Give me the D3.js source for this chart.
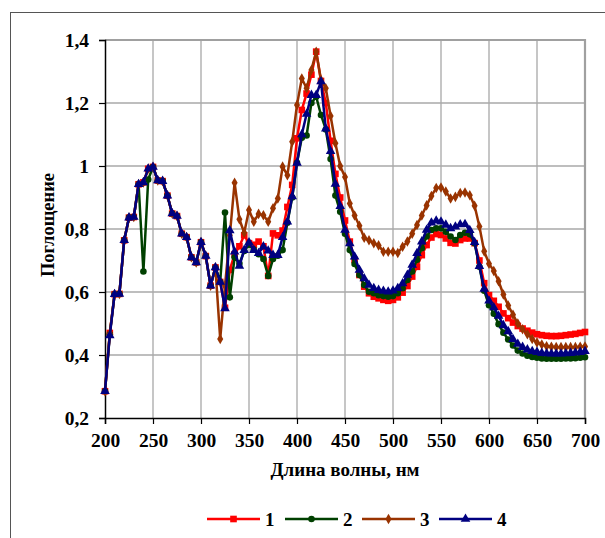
<!DOCTYPE html>
<html>
<head>
<meta charset="utf-8">
<script src="https://cdn.jsdelivr.net/npm/d3@7"></script>
<style>
  body { margin: 0; background: #fff; }
  svg { display: block; font-family: "Liberation Serif", "Times New Roman", serif; font-weight: bold; }
</style>
</head>
<body>
<script>
const width = 605;
const height = 538;

// wavelengths, nm (every 5 nm)
const wavelengths = d3.range(200, 701, 5);

const series1 = [
  0.285, 0.470, 0.593, 0.594, 0.764, 0.836, 0.838, 0.942, 0.948, 0.991,
  0.997, 0.954, 0.952, 0.906, 0.849, 0.841, 0.785, 0.774, 0.710, 0.694,
  0.758, 0.714, 0.620, 0.678, 0.632, 0.550, 0.670, 0.720, 0.745, 0.780,
  0.755, 0.750, 0.760, 0.745, 0.651, 0.786, 0.780, 0.795, 0.870, 0.940,
  1.088, 1.178, 1.230, 1.290, 1.363, 1.270, 1.200, 1.080, 0.975, 0.900,
  0.827, 0.760, 0.702, 0.654, 0.617, 0.596, 0.585, 0.580, 0.575, 0.572,
  0.575, 0.583, 0.598, 0.619, 0.649, 0.680, 0.717, 0.749, 0.773, 0.784,
  0.781, 0.770, 0.756, 0.754, 0.765, 0.770, 0.770, 0.755, 0.700, 0.628,
  0.590, 0.572, 0.553, 0.532, 0.517, 0.503, 0.492, 0.484, 0.477, 0.471,
  0.466, 0.463, 0.461, 0.460, 0.460, 0.461, 0.463, 0.465, 0.467, 0.470,
  0.473
];

const series2 = [
  0.285, 0.466, 0.593, 0.594, 0.764, 0.836, 0.838, 0.942, 0.665, 0.957,
  0.997, 0.954, 0.952, 0.906, 0.849, 0.841, 0.785, 0.774, 0.710, 0.694,
  0.758, 0.714, 0.620, 0.678, 0.632, 0.852, 0.583, 0.710, 0.690, 0.730,
  0.750, 0.735, 0.720, 0.705, 0.651, 0.705, 0.715, 0.733, 0.820, 0.900,
  1.010, 1.090, 1.097, 1.200, 1.220, 1.162, 1.116, 1.022, 0.906, 0.855,
  0.785, 0.733, 0.689, 0.654, 0.622, 0.601, 0.596, 0.590, 0.587, 0.585,
  0.587, 0.596, 0.612, 0.638, 0.665, 0.702, 0.739, 0.776, 0.797, 0.802,
  0.802, 0.791, 0.776, 0.765, 0.781, 0.788, 0.783, 0.755, 0.680, 0.604,
  0.558, 0.531, 0.498, 0.471, 0.449, 0.430, 0.414, 0.405, 0.398, 0.394,
  0.391, 0.389, 0.388, 0.388, 0.388, 0.388, 0.389, 0.389, 0.390, 0.391,
  0.393
];

const series3 = [
  0.285, 0.468, 0.593, 0.594, 0.764, 0.836, 0.838, 0.942, 0.948, 0.991,
  0.997, 0.954, 0.952, 0.906, 0.849, 0.841, 0.785, 0.774, 0.710, 0.694,
  0.758, 0.714, 0.620, 0.678, 0.451, 0.620, 0.780, 0.947, 0.831, 0.788,
  0.860, 0.823, 0.848, 0.844, 0.823, 0.866, 0.897, 0.998, 0.971, 1.077,
  1.194, 1.278, 1.247, 1.305, 1.363, 1.273, 1.247, 1.159, 1.072, 1.000,
  0.965, 0.881, 0.843, 0.810, 0.772, 0.764, 0.755, 0.748, 0.728, 0.728,
  0.728, 0.724, 0.744, 0.760, 0.785, 0.813, 0.843, 0.875, 0.905, 0.930,
  0.932, 0.919, 0.897, 0.902, 0.914, 0.916, 0.907, 0.874, 0.808, 0.729,
  0.690, 0.667, 0.634, 0.592, 0.557, 0.528, 0.500, 0.482, 0.466, 0.451,
  0.440, 0.433, 0.428, 0.426, 0.425, 0.425, 0.425, 0.425, 0.425, 0.426,
  0.427
];

const series4 = [
  0.285, 0.462, 0.593, 0.594, 0.764, 0.836, 0.838, 0.942, 0.948, 0.991,
  0.997, 0.954, 0.952, 0.906, 0.849, 0.841, 0.785, 0.774, 0.710, 0.694,
  0.758, 0.714, 0.620, 0.678, 0.632, 0.548, 0.795, 0.728, 0.683, 0.733,
  0.757, 0.733, 0.723, 0.744, 0.731, 0.717, 0.717, 0.774, 0.823, 0.903,
  1.010, 1.100, 1.165, 1.225, 1.225, 1.268, 1.118, 1.047, 0.943, 0.872,
  0.797, 0.754, 0.712, 0.670, 0.643, 0.622, 0.612, 0.606, 0.603, 0.601,
  0.604, 0.612, 0.627, 0.654, 0.686, 0.723, 0.760, 0.797, 0.820, 0.826,
  0.823, 0.813, 0.802, 0.807, 0.814, 0.815, 0.796, 0.758, 0.682, 0.610,
  0.572, 0.551, 0.524, 0.494, 0.475, 0.450, 0.435, 0.425, 0.417, 0.412,
  0.409, 0.406, 0.405, 0.404, 0.404, 0.404, 0.405, 0.406, 0.407, 0.409,
  0.412
];

const seriesNames = ['1', '2', '3', '4'];
const xTicks = [200, 250, 300, 350, 400, 450, 500, 550, 600, 650, 700];
const yTicks = [0.2, 0.4, 0.6, 0.8, 1.0, 1.2, 1.4];

const styles = [
  { color: '#ff0000', symbol: d3.symbolSquare, size: 44 },
  { color: '#004000', symbol: d3.symbolCircle, size: 34 },
  { color: '#993300', symbol: d3.symbolDiamond, size: 32 },
  { color: '#000080', symbol: d3.symbolTriangle, size: 40 }
];

const allSeries = [series1, series2, series3, series4].map((vals, i) => ({
  name: seriesNames[i],
  style: styles[i],
  points: vals.map((v, j) => ({ x: wavelengths[j], y: v }))
}));

const svg = d3.select('body').append('svg')
  .attr('width', width)
  .attr('height', height);

// outer frame
svg.append('rect')
  .attr('x', 10.5)
  .attr('y', 12.5)
  .attr('width', 700)
  .attr('height', 600)
  .attr('fill', 'none')
  .attr('stroke', '#555')
  .attr('stroke-width', 1);

const x = d3.scaleLinear()
  .domain([200, 700])
  .range([105, 585]);

const y = d3.scaleLinear()
  .domain([0.2, 1.4])
  .range([418, 40]);

const fmt = d => d3.format('~g')(d).replace('.', ',');

// grid
const grid = svg.append('g').attr('stroke', '#a8a8a8').attr('stroke-width', 1.3);
grid.selectAll('.vg')
  .data(xTicks.slice(1))
  .join('line')
  .attr('x1', d => x(d)).attr('x2', d => x(d))
  .attr('y1', y(1.4)).attr('y2', y(0.2));
grid.selectAll('.hg')
  .data(yTicks.slice(1))
  .join('line')
  .attr('x1', x(200)).attr('x2', x(700))
  .attr('y1', d => y(d)).attr('y2', d => y(d));

// plot area border (top / right)
svg.append('path')
  .attr('d', `M${x(200)},${y(1.4)}H${x(700)}V${y(0.2)}`)
  .attr('fill', 'none')
  .attr('stroke', '#a0a0a0')
  .attr('stroke-width', 2.2);

// axes
const xAxisG = svg.append('g')
  .attr('transform', `translate(0,${y(0.2)})`)
  .call(d3.axisBottom(x).tickValues(xTicks).tickSize(6).tickPadding(9).tickFormat(d => d));

const yAxisG = svg.append('g')
  .attr('transform', `translate(${x(200)},0)`)
  .call(d3.axisLeft(y).tickValues(yTicks).tickSize(6).tickPadding(10).tickFormat(fmt));

for (const g of [xAxisG, yAxisG]) {
  g.attr('font-family', null);
  g.select('.domain').attr('stroke', '#000').attr('stroke-width', 1.5);
  g.selectAll('.tick line').attr('stroke', '#000').attr('stroke-width', 1.2);
  g.selectAll('.tick text')
    .attr('fill', '#000')
    .attr('font-family', '"Liberation Serif", "Times New Roman", serif')
    .attr('font-weight', 'bold')
    .attr('font-size', 19.5);
}
yAxisG.selectAll('.tick text').attr('dy', '0.32em');

// lines and markers
const line = d3.line().x(d => x(d.x)).y(d => y(d.y));

const seriesG = svg.append('g')
  .selectAll('g')
  .data(allSeries)
  .join('g');

seriesG.append('path')
  .attr('d', d => line(d.points))
  .attr('fill', 'none')
  .attr('stroke', d => d.style.color)
  .attr('stroke-width', 2.5)
  .attr('stroke-linejoin', 'round');

seriesG.each(function (s) {
  d3.select(this).selectAll('path.m')
    .data(s.points)
    .join('path')
    .attr('class', 'm')
    .attr('transform', d => `translate(${x(d.x)},${y(d.y)})`)
    .attr('d', d3.symbol().type(s.style.symbol).size(s.style.size))
    .attr('fill', s.style.color);
});

// axis titles
svg.append('text')
  .attr('x', (x(200) + x(700)) / 2)
  .attr('y', 476)
  .attr('text-anchor', 'middle')
  .attr('font-size', 19)
  .text('Длина волны, нм');

svg.append('text')
  .attr('transform', `translate(54,${(y(0.2) + y(1.4)) / 2 - 4}) rotate(-90)`)
  .attr('text-anchor', 'middle')
  .attr('font-size', 18.5)
  .text('Поглощение');

// legend
const legendX = [207, 285, 362, 439];
const legend = svg.append('g')
  .selectAll('g')
  .data(allSeries)
  .join('g')
  .attr('transform', (d, i) => `translate(${legendX[i]},519)`);

legend.append('line')
  .attr('x1', 0).attr('x2', 53)
  .attr('stroke', d => d.style.color)
  .attr('stroke-width', 2.5);

legend.append('path')
  .attr('transform', 'translate(26.5,0)')
  .attr('d', d => d3.symbol().type(d.style.symbol).size(d.style.size)())
  .attr('fill', d => d.style.color);

legend.append('text')
  .attr('x', 58)
  .attr('dy', '0.35em')
  .attr('font-size', 19)
  .text(d => d.name);
</script>
</body>
</html>
